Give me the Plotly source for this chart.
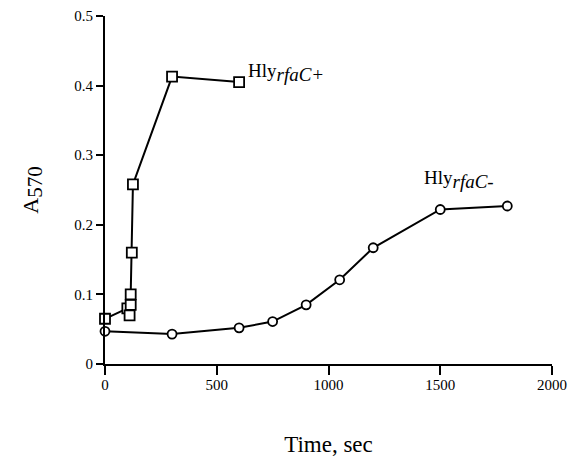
import plotly.graph_objects as go

# Hly rfaC+ (squares)
plus_time = [0, 100, 110, 115, 115, 120, 125, 300, 600]
plus_a570 = [0.065, 0.080, 0.070, 0.085, 0.100, 0.160, 0.258, 0.413, 0.405]

# Hly rfaC- (circles)
minus_time = [0, 300, 600, 750, 900, 1050, 1200, 1500, 1800]
minus_a570 = [0.047, 0.043, 0.052, 0.061, 0.085, 0.121, 0.167, 0.222, 0.227]

x_ticks = [0, 500, 1000, 1500, 2000]
y_ticks = [0, 0.1, 0.2, 0.3, 0.4, 0.5]
y_tick_labels = ["0", "0.1", "0.2", "0.3", "0.4", "0.5"]

font_family = "Liberation Serif"

fig = go.Figure()
fig.add_trace(go.Scatter(
    x=minus_time, y=minus_a570, mode="lines+markers",
    line=dict(color="black", width=2),
    marker=dict(symbol="circle", size=9, color="white",
                line=dict(color="black", width=1.8)),
    cliponaxis=False, showlegend=False))
fig.add_trace(go.Scatter(
    x=plus_time, y=plus_a570, mode="lines+markers",
    line=dict(color="black", width=2),
    marker=dict(symbol="square", size=10, color="white",
                line=dict(color="black", width=1.8)),
    cliponaxis=False, showlegend=False))

sub_style = "font-size:19px"
fig.add_annotation(x=600, y=0.405, xref="x", yref="y",
                   text="Hly<sub><span style='%s'><i>rfaC+</i></span></sub>" % sub_style,
                   showarrow=False,
                   xanchor="left", yanchor="middle", xshift=7, yshift=10,
                   font=dict(family=font_family, size=19, color="black"))
fig.add_annotation(x=1500, y=0.222, xref="x", yref="y",
                   text="Hly<sub><span style='%s'><i>rfaC-</i></span></sub>" % sub_style,
                   showarrow=False,
                   xanchor="left", yanchor="middle", xshift=-18, yshift=30,
                   font=dict(family=font_family, size=19, color="black"))

fig.update_layout(
    width=569, height=473,
    margin=dict(l=105, r=17, t=16, b=109),
    paper_bgcolor="white", plot_bgcolor="white",
    font=dict(family=font_family, size=15, color="black"),
    xaxis=dict(range=[0, 2000], tickvals=x_ticks, ticks="outside", ticklen=9,
               tickwidth=2, tickcolor="black", showline=True, linecolor="black",
               linewidth=2, showgrid=False, zeroline=False, automargin=False,
               tickfont=dict(size=15), ticklabelstandoff=-3,
               title=dict(text="Time, sec", standoff=44,
                          font=dict(size=23))),
    yaxis=dict(range=[0, 0.5], tickvals=y_ticks, ticktext=y_tick_labels,
               ticks="outside", ticklen=7, tickwidth=2, tickcolor="black",
               showline=True, linecolor="black", linewidth=2, showgrid=False,
               zeroline=False, tickfont=dict(size=15), automargin=False,
               title=dict(text="A<sub><span style='font-size:21px'>570</span></sub>",
                          standoff=30, font=dict(size=22))),
)

fig.write_html("out.html", config={"displayModeBar": False},
               post_script="document.body.style.margin='0';document.body.style.overflow='hidden';")
